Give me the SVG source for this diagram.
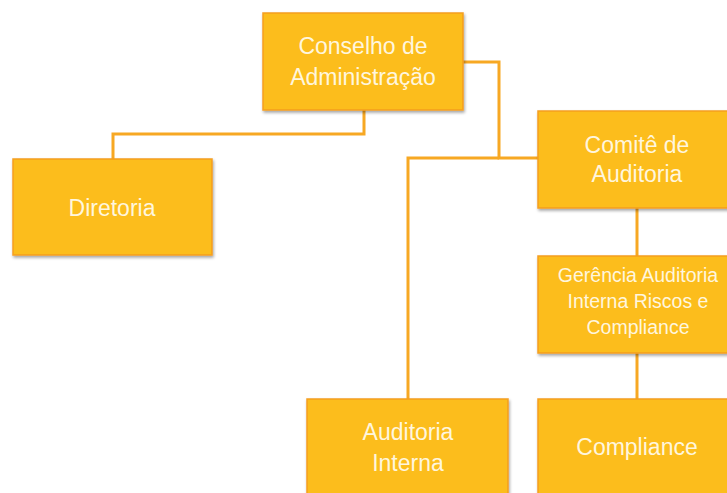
<svg xmlns="http://www.w3.org/2000/svg" width="727" height="493" viewBox="0 0 727 493">
<defs>
<filter id="sh" x="-10%" y="-10%" width="130%" height="130%">
<feDropShadow dx="1" dy="2" stdDeviation="1.5" flood-color="#000" flood-opacity="0.35"/>
</filter>
<style>
.box{fill:#FCBD1B;stroke:#F59E22;stroke-width:1.5;filter:url(#sh)}
.t{font-family:"Liberation Sans",Arial,sans-serif;font-size:23px;fill:#FFF6DE;text-anchor:middle}
.s{font-size:19.5px}
.c{fill:none;stroke:#F7A823;stroke-width:3}
</style>
</defs>
<rect width="727" height="493" fill="#fff"/>
<g id="connectors">
<polyline class="c" points="364,110 364,134 113,134 113,159"/>
<polyline class="c" points="463,62 499,62 499,158 538,158"/>
<polyline class="c" points="499,158 408,158 408,399"/>
<line class="c" x1="637" y1="208" x2="637" y2="256"/>
<line class="c" x1="637" y1="353" x2="637" y2="399"/>
</g>
<g id="conselho">
<rect class="box" x="263" y="13" width="200" height="97"/>
<text class="t" x="363" y="54">Conselho de</text>
<text class="t" x="363" y="85">Administração</text>
</g>
<g id="diretoria">
<rect class="box" x="13" y="159" width="199" height="96"/>
<text class="t" x="112" y="216">Diretoria</text>
</g>
<g id="comite">
<rect class="box" x="538" y="111" width="195" height="97"/>
<text class="t" x="637" y="153">Comitê de</text>
<text class="t" x="637" y="182">Auditoria</text>
</g>
<g id="gerencia">
<rect class="box" x="538" y="256" width="195" height="97"/>
<text class="t s" x="638" y="282">Gerência Auditoria</text>
<text class="t s" x="638" y="308">Interna Riscos e</text>
<text class="t s" x="638" y="334">Compliance</text>
</g>
<g id="auditoria-interna">
<rect class="box" x="307" y="399" width="201" height="100"/>
<text class="t" x="408" y="440">Auditoria</text>
<text class="t" x="408" y="471">Interna</text>
</g>
<g id="compliance">
<rect class="box" x="538" y="399" width="195" height="100"/>
<text class="t" x="637" y="455">Compliance</text>
</g>
</svg>
